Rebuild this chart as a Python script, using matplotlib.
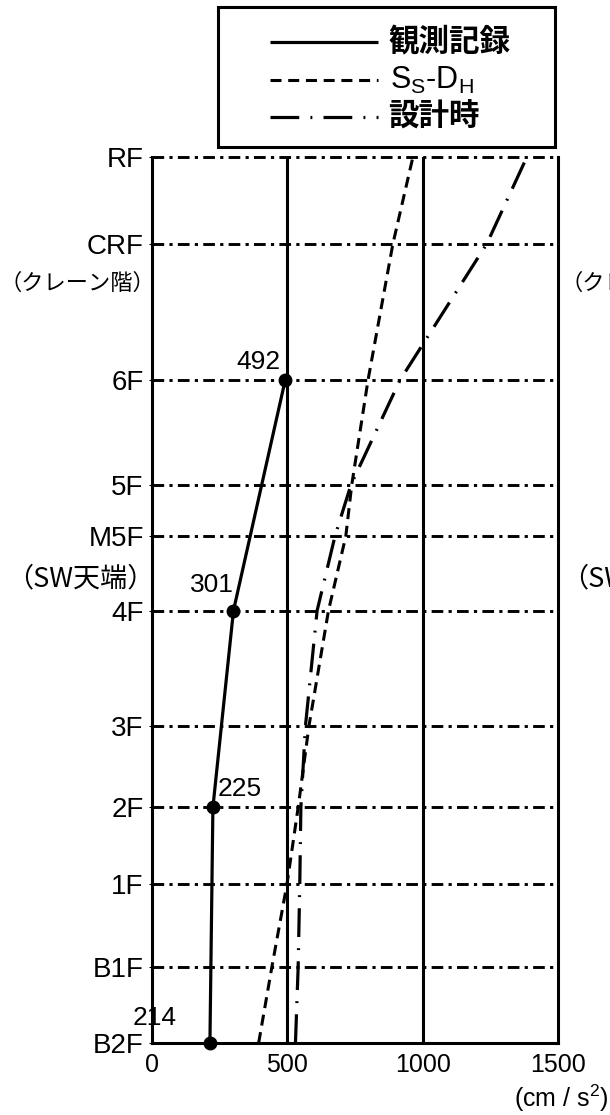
import matplotlib.pyplot as plt
from matplotlib.lines import Line2D
from matplotlib.patches import Rectangle

# floor levels (height above B2F, m)
floors  = ['B2F', 'B1F', '1F', '2F', '3F', '4F', 'M5F', '5F', '6F', 'CRF', 'RF']
heights = [0.0, 4.3, 9.0, 13.3, 17.9, 24.4, 28.6, 31.5, 37.4, 45.1, 50.0]

# observed peak acceleration (cm/s2)
obs_floors = ['B2F', '2F', '4F', '6F']
obs_acc    = [214, 225, 301, 492]

# Ss-DH response and design values at each floor
ss_acc     = [394, 443, 499, 540, 580, 652, 716, 738, 798, 890, 964]
design_acc = [530, 540, 546, 550, 567, 610, 676, 735, 916, 1237, 1385]

x_ticks = [0, 500, 1000, 1500]
legend_labels = ['観測記録', r'$\mathrm{S_S}$-$\mathrm{D_H}$', '設計時']

plt.rcParams['mathtext.fontset'] = 'custom'
plt.rcParams['mathtext.rm'] = 'Liberation Sans'
plt.rcParams['mathtext.it'] = 'Liberation Sans:italic'

LAT = ['Liberation Sans', 'DejaVu Sans']
CJK = ['Noto Sans CJK JP', 'DejaVu Sans']

obs_style  = dict(color='black', lw=2.3, solid_capstyle='butt')
ss_style   = dict(color='black', lw=2.2, linestyle=(0, (3.6, 2.2)))
des_style  = dict(color='black', lw=2.3, linestyle=(0, (9, 3.5, 0.6, 3.5)))
grid_style = dict(color='black', lw=2.1, linestyle=(0, (4, 1.8, 1.1, 1.8)))

W, H = 610, 1115
fig = plt.figure(figsize=(W / 100, H / 100), dpi=100)
ax = fig.add_axes([152 / W, 72 / H, 406 / W, 886 / H])

y_of = dict(zip(floors, heights))
obs_y = [y_of[f] for f in obs_floors]

for h in heights[1:]:
    ax.axhline(h, **grid_style, clip_on=False, zorder=1)
for v in x_ticks[1:3]:
    ax.axvline(v, color='black', lw=2.2, zorder=1)

ax.plot(ss_acc, heights, **ss_style, zorder=3)
ax.plot(design_acc, heights, **des_style, zorder=3)
ax.plot(obs_acc, obs_y, **obs_style, marker='o', ms=9, zorder=4, clip_on=False)

# value labels next to the observed points
offsets = {214: (-24, 18, 'right'), 225: (3.5, 13.5, 'left'),
           301: (0, 18.5, 'right'), 492: (-3.5, 13, 'right')}
for a, y in zip(obs_acc, obs_y):
    dx, dy, ha = offsets[a]
    ax.annotate(str(a), (a, y), xytext=(dx, dy), textcoords='offset points',
                ha=ha, va='center', fontsize=19, family=LAT)

ax.set_xlim(0, 1500)
ax.set_ylim(0, 50)
ax.set_xticks(x_ticks)
ax.set_xticklabels([str(t) for t in x_ticks], fontsize=18, family=LAT)
ax.set_yticks(heights)
ax.set_yticklabels(floors, fontsize=20, family=LAT)
ax.tick_params(axis='x', length=0, pad=7)
ax.tick_params(axis='y', length=2, width=0.8, pad=4)

for s in ['left', 'right', 'bottom']:
    ax.spines[s].set_linewidth(2.2)
ax.spines['top'].set_visible(False)

# notes under the floor names (also the clipped ones of the next panel)
notes = [('CRF', '（クレーン階）', -28.8, 16), ('M5F', '（SW天端）', -31, 19.5)]
for fl, txt, dy, fs in notes:
    ax.annotate(txt, (0, y_of[fl]), xycoords=('axes fraction', 'data'),
                xytext=(2, dy), textcoords='offset points',
                ha='right', va='center', fontsize=fs, family=CJK)
    ax.annotate(txt, (1, y_of[fl]), xycoords=('axes fraction', 'data'),
                xytext=(2, dy), textcoords='offset points',
                ha='left', va='center', fontsize=fs, family=CJK)

fig.text(0.997, 1 - 1098 / H, '(cm / s$^2$)', ha='right', va='center',
         fontsize=18, family=LAT)

# legend box
fig.add_artist(Rectangle((218 / W, 1 - 147 / H), 337 / W, 140 / H,
                         transform=fig.transFigure, fill=False,
                         lw=2.2, ec='black'))
rows = [42, 80, 117]
for style, label, yy in zip([obs_style, ss_style, des_style], legend_labels, rows):
    fig.add_artist(Line2D([270 / W, 378 / W], [1 - yy / H] * 2,
                          transform=fig.transFigure, **style))
    if label.startswith('$'):
        fig.text(390 / W, 1 - yy / H, label, va='center', fontsize=22, family=LAT)
    else:
        fig.text(388 / W, 1 - yy / H, label, va='center', fontsize=22,
                 family=CJK, fontweight='bold')

plt.savefig('out.png', dpi=100)
